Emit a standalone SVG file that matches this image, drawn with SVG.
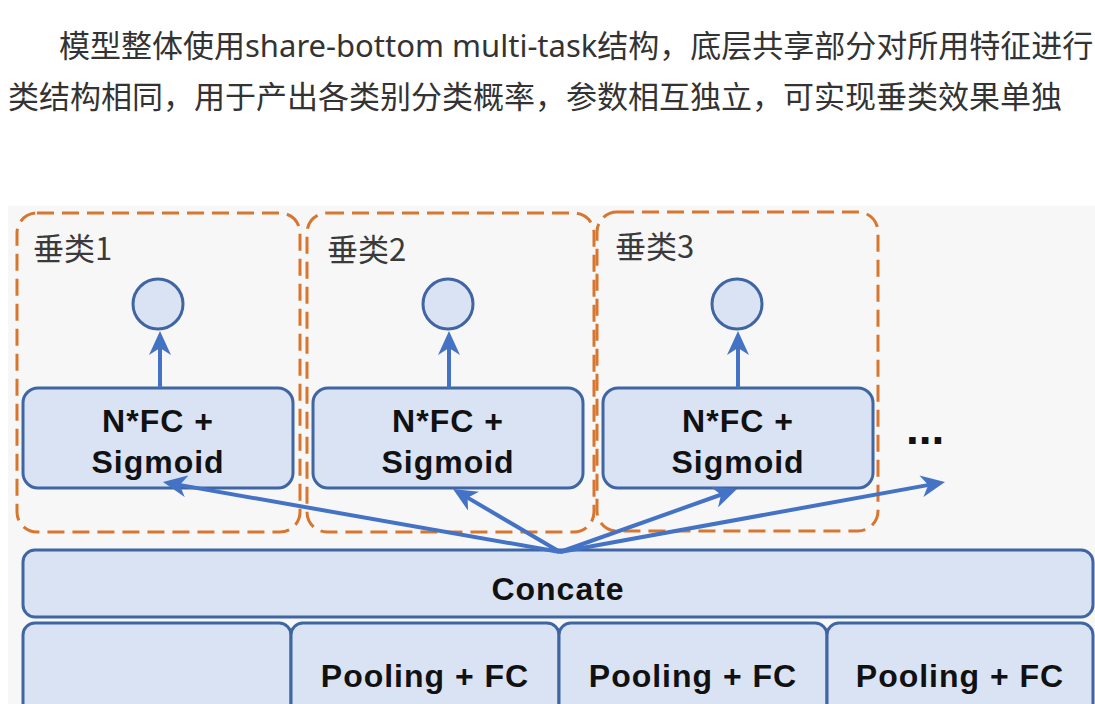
<svg xmlns="http://www.w3.org/2000/svg" width="1095" height="704" viewBox="0 0 1095 704">
<style>
.para{font-family:"Noto Sans","Noto Sans CJK SC",sans-serif;font-size:31px;fill:#333333}
.grp{fill:none;stroke:#d8762f;stroke-width:3;stroke-dasharray:17 8}
.glabel{font-family:"Noto Sans CJK SC",sans-serif;font-size:31px;fill:#3a3a3a}
.box{fill:#dae3f3;stroke:#3f66a3;stroke-width:3}
.lbl{font-family:"Liberation Sans",Arial,sans-serif;font-size:32px;font-weight:bold;fill:#111111;text-anchor:middle;letter-spacing:1px}
.out{fill:#dae3f3;stroke:#3f66a3;stroke-width:3}
.arr{stroke:#4472c4;stroke-width:4;fill:none;marker-end:url(#ah)}
</style>
<defs>
<marker id="ah" markerUnits="userSpaceOnUse" markerWidth="24" markerHeight="22" viewBox="0 0 24 22" refX="12" refY="11" orient="auto">
<path d="M0,0 L24,11 L0,22 L7,11 Z" fill="#4472c4"/>
</marker>
</defs>
<rect x="0" y="0" width="1095" height="704" fill="#ffffff"/>
<text class="para" x="59" y="57">模型整体使用share-bottom multi-task结构，底层共享部分对所用特征进行</text>
<text class="para" x="8" y="108">类结构相同，用于产出各类别分类概率，参数相互独立，可实现垂类效果单独</text>
<rect x="8" y="206" width="1087" height="498" fill="#f7f7f7"/>

<g id="group1">
<rect class="grp" x="17" y="213" width="283" height="319" rx="20"/>
<text class="glabel" x="33" y="260">垂类1</text>
</g>
<g id="group2">
<rect class="grp" x="307" y="213" width="287" height="319" rx="20"/>
<text class="glabel" x="327" y="261">垂类2</text>
</g>
<g id="group3">
<rect class="grp" x="597" y="212" width="281" height="319" rx="20"/>
<text class="glabel" x="615" y="258">垂类3</text>
</g>

<g id="fc1">
<rect class="box" x="23" y="388" width="270" height="100" rx="15"/>
<text class="lbl" x="158" y="432">N*FC +</text>
<text class="lbl" x="158" y="473">Sigmoid</text>
</g>
<g id="fc2">
<rect class="box" x="313" y="388" width="270" height="100" rx="15"/>
<text class="lbl" x="448" y="432">N*FC +</text>
<text class="lbl" x="448" y="473">Sigmoid</text>
</g>
<g id="fc3">
<rect class="box" x="603" y="388" width="270" height="100" rx="15"/>
<text class="lbl" x="738" y="432">N*FC +</text>
<text class="lbl" x="738" y="473">Sigmoid</text>
</g>

<g id="out1"><circle class="out" cx="158" cy="304" r="25"/></g>
<g id="out2"><circle class="out" cx="448" cy="304" r="25"/></g>
<g id="out3"><circle class="out" cx="737" cy="304" r="25"/></g>

<g id="more"><text x="906" y="444" font-family="Liberation Sans,Arial,sans-serif" font-size="46" font-weight="bold" fill="#111111">...</text></g>

<g id="concate">
<rect class="box" x="23" y="550" width="1070" height="67" rx="12"/>
<text class="lbl" x="558" y="600">Concate</text>
</g>
<g id="pool0"><rect class="box" x="23" y="623" width="268" height="100" rx="12"/></g>
<g id="pool1">
<rect class="box" x="291" y="623" width="268" height="100" rx="12"/>
<text class="lbl" x="425" y="687">Pooling + FC</text>
</g>
<g id="pool2">
<rect class="box" x="559" y="623" width="268" height="100" rx="12"/>
<text class="lbl" x="693" y="687">Pooling + FC</text>
</g>
<g id="pool3">
<rect class="box" x="827" y="623" width="266" height="100" rx="12"/>
<text class="lbl" x="960" y="687">Pooling + FC</text>
</g>

<g id="connectors">
<line class="arr" x1="160" y1="388" x2="160" y2="343"/>
<line class="arr" x1="449" y1="388" x2="449" y2="343"/>
<line class="arr" x1="738" y1="388" x2="738" y2="343"/>
<line class="arr" x1="560" y1="552" x2="174.8" y2="484.1"/>
<line class="arr" x1="560" y1="552" x2="463.3" y2="495.1"/>
<line class="arr" x1="560" y1="552" x2="725.7" y2="493"/>
<line class="arr" x1="560" y1="552" x2="933.2" y2="484.1"/>
</g>
</svg>
